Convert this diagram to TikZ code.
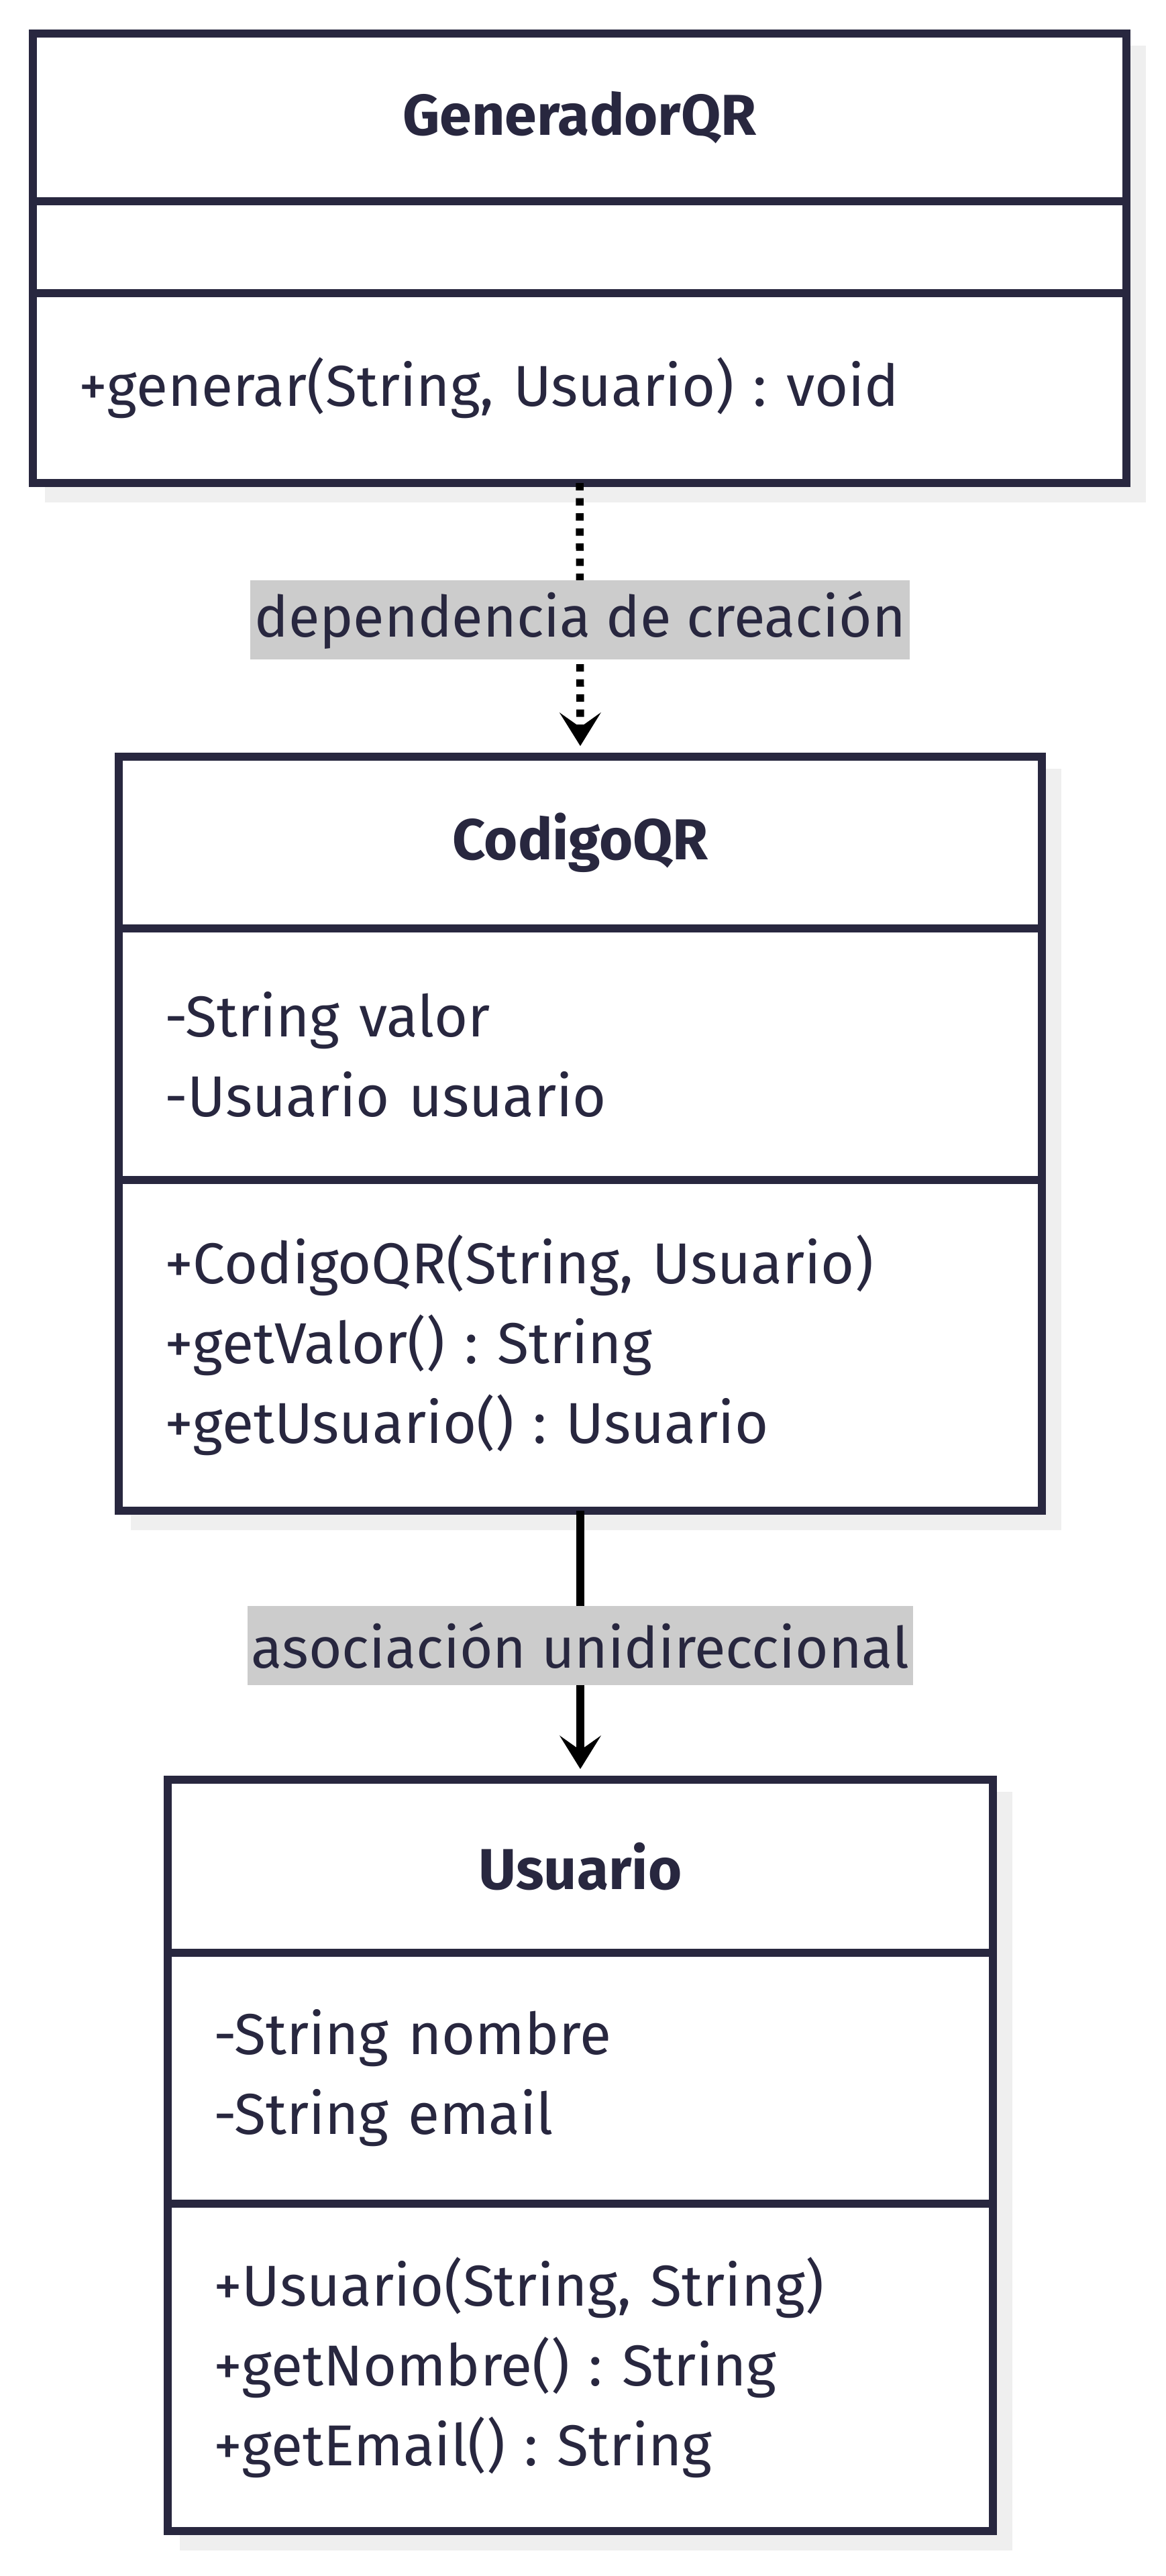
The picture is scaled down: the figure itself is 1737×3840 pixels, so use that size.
\documentclass[tikz,border=0pt]{standalone}
\usepackage{fontspec}
\setmainfont{Fira Sans}
\usetikzlibrary{positioning,arrows.meta,backgrounds}

\definecolor{umlink}{HTML}{28273F}
\definecolor{labelgray}{HTML}{CCCCCC}
\definecolor{shadowgray}{HTML}{EFEFEF}

\tikzset{
  compart/.style={draw=umlink, line width=5.75pt, fill=white, text=umlink, outer sep=0pt,
    font=\fontsize{43}{59.5}\selectfont\frenchspacing},
  titlebox/.style={compart, font=\fontsize{43}{59}\selectfont\bfseries, align=center},
  listbox/.style={compart, align=left, inner xsep=34pt, inner ysep=0pt},
  edgelabel/.style={fill=labelgray, text=umlink, inner xsep=3pt, inner ysep=0pt,
    minimum height=59pt, font=\fontsize{42.5}{59}\selectfont},
  classshadow/.style={fill=shadowgray},
  relline/.style={black, line width=5.75pt, shorten >=8pt,
    -{Stealth[length=25pt, width=31pt, inset=11pt, line width=0.5pt]}},
  deprel/.style={relline, dash pattern=on 5.5pt off 5.75pt},
}

\begin{document}
\begin{tikzpicture}[x=0.5pt, y=-0.5pt]
\useasboundingbox (0,0) rectangle (1737,3840);

% GeneradorQR
\node[titlebox, minimum width=815pt, minimum height=125pt] (gentitle) at (864,175) {GeneradorQR};
\node[listbox, text width=747pt, minimum height=68.5pt, below=0pt of gentitle] (genattr) {};
\node[listbox, text width=747pt, minimum height=141.5pt, below=0pt of genattr] (genmeth) {+generar(String, Usuario) : void};

% CodigoQR
\node[titlebox, minimum width=688pt, minimum height=128pt] (codtitle) at (865,1256) {CodigoQR};
\node[listbox, text width=620pt, minimum height=187.5pt, below=0pt of codtitle] (codattr) {-String valor\\-Usuario usuario};
\node[listbox, text width=620pt, minimum height=246.5pt, below=0pt of codattr] (codmeth) {+CodigoQR(String, Usuario)\\+getValor() : String\\+getUsuario() : Usuario};

% Usuario
\node[titlebox, minimum width=615pt, minimum height=129pt] (usutitle) at (865,2782) {Usuario};
\node[listbox, text width=547pt, minimum height=187pt, below=0pt of usutitle] (usuattr) {-String nombre\\-String email};
\node[listbox, text width=547pt, minimum height=244pt, below=0pt of usuattr] (usumeth) {+Usuario(String, String)\\+getNombre() : String\\+getEmail() : String};

% shadows
\begin{scope}[on background layer]
  \fill[classshadow] ([shift={(9pt,-9pt)}]gentitle.north west) rectangle ([shift={(14.5pt,-14.5pt)}]genmeth.south east);
  \fill[classshadow] ([shift={(9pt,-9pt)}]codtitle.north west) rectangle ([shift={(14.5pt,-14.5pt)}]codmeth.south east);
  \fill[classshadow] ([shift={(9pt,-9pt)}]usutitle.north west) rectangle ([shift={(14.5pt,-14.5pt)}]usumeth.south east);
\end{scope}

% relations
\draw[deprel] (genmeth.south) -- node[edgelabel] (deplabel) {dependencia de creación} (codtitle.north);
\draw[relline] (codmeth.south) -- node[edgelabel] (asolabel) {asociación unidireccional} (usutitle.north);

\end{tikzpicture}
\end{document}
